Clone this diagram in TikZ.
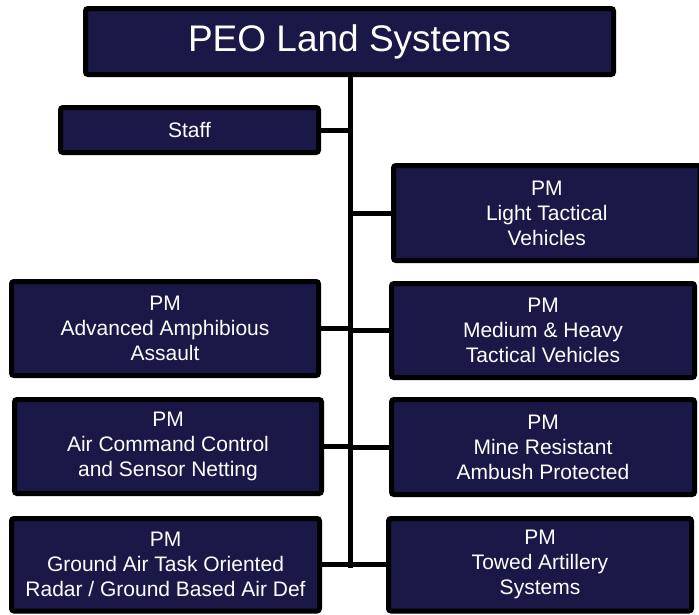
\documentclass[tikz,border=0pt]{standalone}
\usepackage{fontspec}
\setmainfont{Liberation Sans}
\definecolor{navy}{RGB}{25,24,70}
\begin{document}
\begin{tikzpicture}[x=1pt,y=-1pt,
  box/.style={draw=black, line width=5pt, fill=navy, rounded corners=2.5pt,
    text=white, align=center, font=\fontsize{21}{25}\selectfont, inner sep=0pt},
  conn/.style={draw=black, line width=5pt}]
\useasboundingbox (0,0) rectangle (699,614);
\node[box, minimum width=528pt, minimum height=66pt, font=\fontsize{37}{44}\selectfont] (top) at (349.5,41.5) {PEO Land Systems};
\node[box, minimum width=258pt, minimum height=45pt] (staff) at (189.5,130) {Staff};
\node[box, minimum width=306.5pt, minimum height=95pt] (light) at (546.75,213) {PM\\Light Tactical\\Vehicles};
\node[box, minimum width=307pt, minimum height=94pt] (aaa) at (165,328.5) {PM\\Advanced Amphibious\\Assault};
\node[box, minimum width=303pt, minimum height=94pt] (mh) at (543,330.5) {PM\\Medium \& Heavy\\Tactical Vehicles};
\node[box, minimum width=307pt, minimum height=94pt] (acc) at (168,446.5) {PM\\Air Command Control\\and Sensor Netting};
\node[box, minimum width=303pt, minimum height=95pt] (mine) at (543,447) {PM\\Mine Resistant\\Ambush Protected};
\node[box, minimum width=308pt, minimum height=92.5pt] (gat) at (165.5,564.75) {PM\\Ground Air Task Oriented\\Radar / Ground Based Air Def};
\node[box, minimum width=303pt, minimum height=92.5pt] (towed) at (540,564.75) {PM\\Towed Artillery\\Systems};
\coordinate (tb) at (350.5,568);
\draw[conn] (top.south -| tb) -- (tb);
\draw[conn] (staff.east) -- (staff.east -| tb);
\draw[conn] (light.west) -- (light.west -| tb);
\draw[conn] (aaa.east) -- (aaa.east -| tb);
\draw[conn] (mh.west) -- (mh.west -| tb);
\draw[conn] (acc.east) -- (acc.east -| tb);
\draw[conn] (mine.west) -- (mine.west -| tb);
\draw[conn] (gat.east) -- (gat.east -| tb);
\draw[conn] (towed.west) -- (towed.west -| tb);
\end{tikzpicture}
\end{document}
